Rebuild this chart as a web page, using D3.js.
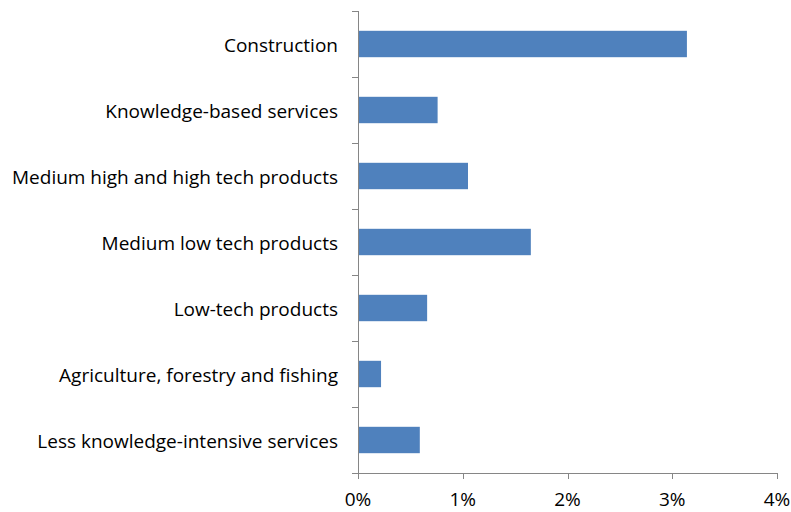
<!DOCTYPE html>
<html><head><meta charset="utf-8">
<script src="https://cdn.jsdelivr.net/npm/d3@7"></script>
<style>body{margin:0;background:#fff}text{font-family:"Open Sans",sans-serif;fill:#000}</style>
</head><body><svg id="c" width="791" height="512"></svg>
<script>
const categories = ["Construction","Knowledge-based services","Medium high and high tech products","Medium low tech products","Low-tech products","Agriculture, forestry and fishing","Less knowledge-intensive services"];
const values = [3.14,0.76,1.05,1.65,0.66,0.22,0.59];
const tickValues = [0,1,2,3,4];
const tickLabels = ["0%","1%","2%","3%","4%"];

const svg = d3.select("#c");
const x0 = 358, x1 = 777, yTop = 11, yBot = 473;
const x = d3.scaleLinear().domain([0,4]).range([x0,x1]);
const y = d3.scaleBand().domain(categories).range([yTop,yBot]).paddingInner(0.6).paddingOuter(0.3);
const yb = d3.scaleBand().domain(categories).range([yTop,yBot]);

// bars
svg.append("g").selectAll("rect").data(categories).join("rect")
  .attr("x", x(0)).attr("y", d=>y(d))
  .attr("width", (d,i)=>x(values[i])-x(0)).attr("height", y.bandwidth())
  .attr("fill","#4F81BD");

// y axis line and ticks
const g = svg.append("g");
g.append("line").attr("x1",x0+0.5).attr("x2",x0+0.5).attr("y1",yTop).attr("y2",yBot).attr("stroke","#868686").attr("stroke-width",1);
const bounds = categories.map(c=>yb(c)).concat([yBot]);
g.selectAll("line.t").data(bounds).join("line").attr("class","t")
  .attr("x1",x0-6).attr("x2",x0+0.5).attr("y1",d=>Math.round(d)+0.5).attr("y2",d=>Math.round(d)+0.5)
  .attr("stroke","#868686");
g.selectAll("text").data(categories).join("text")
  .attr("x",x0-20).attr("y",d=>yb(d)+yb.bandwidth()/2+8)
  .attr("text-anchor","end").attr("font-size",19).text(d=>d);

// x axis
const xa = svg.append("g");
xa.append("line").attr("x1",x0).attr("x2",x1).attr("y1",yBot+0.5).attr("y2",yBot+0.5).attr("stroke","#868686");
xa.selectAll("line.t").data(tickValues).join("line").attr("class","t")
  .attr("x1",d=>Math.round(x(d))+0.5).attr("x2",d=>Math.round(x(d))+0.5).attr("y1",yBot).attr("y2",yBot+6)
  .attr("stroke","#868686");
xa.selectAll("text").data(tickValues).join("text")
  .attr("x",d=>x(d)).attr("y",506).attr("text-anchor","middle").attr("font-size",19)
  .text((d,i)=>tickLabels[i]);
</script></body></html>
